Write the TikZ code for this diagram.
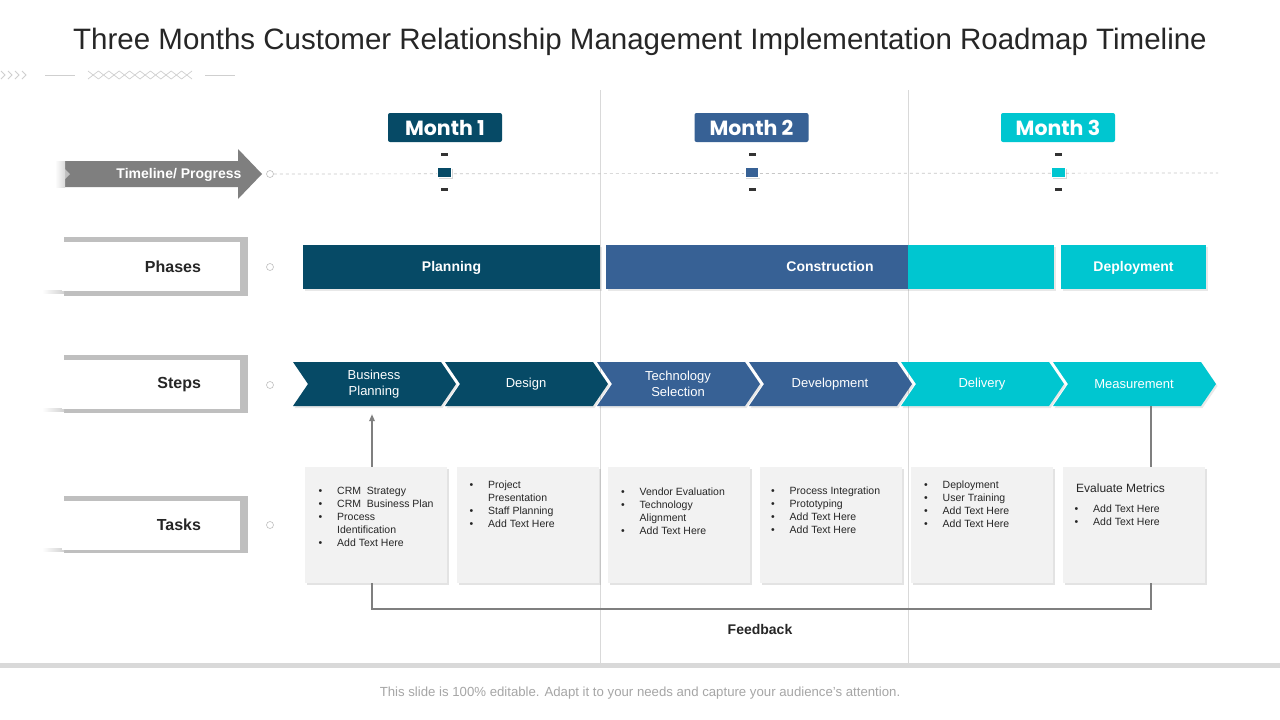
\documentclass[tikz,border=0pt]{standalone}
\usepackage{fontspec}
\setmainfont{Liberation Sans}
\newfontfamily\monthfont{Poppins}
\usetikzlibrary{shadows,arrows.meta}
\definecolor{cA}{HTML}{064A66}
\definecolor{cB}{HTML}{376195}
\definecolor{cC}{HTML}{00C6D0}
\definecolor{txt}{HTML}{262626}
\definecolor{lgray}{HTML}{D9D9D9}
\definecolor{boxgray}{HTML}{F2F2F2}
\definecolor{arrgray}{HTML}{7F7F7F}
\definecolor{framegray}{HTML}{BFBFBF}
\definecolor{foot}{HTML}{A6A6A6}
\definecolor{deco}{HTML}{CFCFCF}
\newcommand\bul{\makebox[18.5pt][l]{\textbullet}}
\newcommand\nob{\hspace*{18.5pt}}
\tikzset{
  monthbox/.style={rectangle, rounded corners=2pt, minimum width=114pt, minimum height=29pt, inner sep=0pt, text=white, font=\monthfont\bfseries\fontsize{20.5}{23}\selectfont},
  tickmark/.style={rectangle, fill=black!80, minimum width=7pt, minimum height=3pt, inner sep=0pt},
  msq/.style={rectangle, draw=white, line width=1.5pt, minimum width=14pt, minimum height=10pt, inner sep=0pt, drop shadow={shadow xshift=1pt, shadow yshift=-1pt, opacity=0.3}},
  smallcirc/.style={circle, draw=black!25, fill=white, minimum size=7pt, inner sep=0pt, line width=0.6pt},
  labbox/.style={rectangle, fill=white, minimum width=178pt, minimum height=49pt, inner sep=0pt, text width=100pt, align=right, text=txt, font=\bfseries\fontsize{16}{18}\selectfont},
  phasebar/.style={rectangle, minimum height=44pt, inner sep=0pt, text height=10pt, text depth=1pt, text=white, font=\bfseries\fontsize{14}{16}\selectfont, drop shadow={shadow xshift=1.5pt, shadow yshift=-2pt, opacity=0.18}},
  steplab/.style={rectangle, minimum width=130pt, minimum height=44pt, inner sep=0pt, text=white, align=center, font=\fontsize{13}{16}\selectfont},
  taskbox/.style={rectangle, fill=boxgray, minimum width=142pt, minimum height=116pt, inner sep=0pt, drop shadow={shadow xshift=2pt, shadow yshift=-2pt, opacity=0.22}},
  tasktext/.style={anchor=north west, inner sep=0pt, text=txt, font=\fontsize{10.5}{13}\selectfont},
  fbline/.style={draw=arrgray, line width=1.6pt},
}
\begin{document}
\begin{tikzpicture}[x=1pt,y=-1pt]
\useasboundingbox (0,0) rectangle (1280,720);
\fill[white] (0,0) rectangle (1280,720);

% title and decoration
\node[text=txt, font=\fontsize{29.5}{32}\selectfont] (title) at (640,42) {Three Months Customer Relationship Management Implementation Roadmap Timeline};
\foreach \k in {0,...,3} \draw[deco, line width=0.8pt] (1+7*\k,71) -- (5+7*\k,75) -- (1+7*\k,79);
\draw[deco, line width=0.8pt] (45,75) -- (75,75) (205,75) -- (235,75);
\foreach \k in {0,...,9} \draw[deco, line width=0.7pt] (88+10.4*\k,71) -- (98.4+10.4*\k,79) (88+10.4*\k,79) -- (98.4+10.4*\k,71);

% vertical separators and footer band
\draw[lgray, line width=1pt] (600,90) -- (600,665) (908,90) -- (908,665);
\fill[lgray] (0,663) rectangle (1280,668);
\node[text=foot, font=\fontsize{13.2}{15}\selectfont] (footer) at (640,693) {This slide is 100\% editable. Adapt it to your needs and capture your audience's attention.};

% timeline arrow
\fill[arrgray] (65,161) -- (238,161) -- (238,149) -- (262,174) -- (238,199) -- (238,187) -- (65,187) -- cycle;
\fill[white, opacity=0.5] (65,169) -- (70,174) -- (65,179) -- cycle;
\shade[left color=white, right color=black!15] (55,161) rectangle (65,187);
\node[text=white, font=\bfseries\fontsize{14}{16}\selectfont, text height=10pt, text depth=1pt] (tl) at (179,174) {Timeline/ Progress};
\node[smallcirc] (c0) at (270,174) {};
\coordinate (dashend) at (1218,173);
\draw[black!22, dash pattern=on 3pt off 3pt, line width=0.7pt] (c0) -- (dashend);

% months
\node[monthbox, fill=cA] (m1) at (445,127.5) {Month 1};
\node[monthbox, fill=cB] (m2) at (751.5,127.5) {Month 2};
\node[monthbox, fill=cC] (m3) at (1058,127.5) {Month 3};
\foreach \n/\x/\c in {1/444.5/cA,2/752/cB,3/1058.5/cC}{
  \node[tickmark] (ta\n) at (\x,154.5) {};
  \node[msq, fill=\c] (q\n) at (\x,172.5) {};
  \node[tickmark] (tb\n) at (\x,189.5) {};
}

% left labels
\foreach \n/\lab/\gt/\gb/\wt/\wb in {1/Phases/237/296/242/291,2/Steps/355/413/360/409,3/Tasks/496/553/501/549}{
  \fill[framegray] (64,\gt) rectangle (248,\gb);
  \shade[left color=white, right color=black!18] (42,\wb-1) rectangle (64,\wb+2);
  \node[labbox] (lab\n) at (151,{(\wt+\wb)/2}) {\lab};
}
\node[smallcirc] (c1) at (270,267) {};
\node[smallcirc] (c2) at (270,385) {};
\node[smallcirc] (c3) at (270,525) {};

% phases
\node[phasebar, fill=cA, minimum width=297pt] (p1) at (451.5,267) {Planning};
\node[phasebar, fill=cB, minimum width=448pt] (p2) at (830,267) {Construction};
\fill[cC] (908,245) rectangle (1054,289);
\node[phasebar, fill=cC, minimum width=145pt] (p3) at (1133.5,267) {Deployment};

% steps
\foreach \i/\col/\lab in {0/cA/{Business\\Planning},1/cA/Design,2/cB/{Technology\\Selection},3/cB/Development,4/cC/Delivery,5/cC/Measurement}{
  \pgfmathsetmacro\L{293+152*\i}
  \fill[\col, drop shadow={shadow xshift=1.5pt, shadow yshift=-2pt, opacity=0.18}] (\L,362) -- ++(148,0) -- ++(15,22) -- ++(-15,22) -- ++(-148,0) -- ++(15,-22) -- cycle;
  \node[steplab] (s\i) at (\L+81,384) {\lab};
}

% tasks
\node[taskbox] (t1) at (376,525) {};
\node[taskbox] (t2) at (528,525) {};
\node[taskbox] (t3) at (679,525) {};
\node[taskbox] (t4) at (831,525) {};
\node[taskbox] (t5) at (982,525) {};
\node[taskbox] (t6) at (1133.5,525) {};

\node[tasktext] (tt1) at (318.5,485) {\begin{tabular}{@{}l@{}}\bul CRM\ \ Strategy\\ \bul CRM\ \ Business Plan\\ \bul Process\\ \nob Identification\\ \bul Add Text Here\end{tabular}};
\node[tasktext] (tt2) at (469.5,479.5) {\begin{tabular}{@{}l@{}}\bul Project\\ \nob Presentation\\ \bul Staff Planning\\ \bul Add Text Here\end{tabular}};
\node[tasktext] (tt3) at (621,486) {\begin{tabular}{@{}l@{}}\bul Vendor Evaluation\\ \bul Technology\\ \nob Alignment\\ \bul Add Text Here\end{tabular}};
\node[tasktext] (tt4) at (771,485.5) {\begin{tabular}{@{}l@{}}\bul Process Integration\\ \bul Prototyping\\ \bul Add Text Here\\ \bul Add Text Here\end{tabular}};
\node[tasktext] (tt5) at (924,479.5) {\begin{tabular}{@{}l@{}}\bul Deployment\\ \bul User Training\\ \bul Add Text Here\\ \bul Add Text Here\end{tabular}};
\node[anchor=west, inner sep=0pt, text=txt, font=\fontsize{12}{14}\selectfont] (tt6h) at (1076,488.5) {Evaluate Metrics};
\node[tasktext] (tt6) at (1074.5,503.5) {\begin{tabular}{@{}l@{}}\bul Add Text Here\\ \bul Add Text Here\end{tabular}};

% feedback loop
\coordinate (fbR) at (1151,0);
\draw[fbline, -{Triangle[length=7pt,width=5.5pt]}, shorten >=8pt] ([xshift=-4pt]t1.north) -- ([xshift=-4pt]t1.north |- s0.south);
\draw[fbline] (s5.south -| fbR) -- (t6.north -| fbR);
\draw[fbline] ([xshift=-4pt]t1.south) -- ++(0,26) -| (t6.south -| fbR);
\node[text=txt, font=\bfseries\fontsize{14}{16}\selectfont] (fb) at (760,629) {Feedback};
\end{tikzpicture}
\end{document}
